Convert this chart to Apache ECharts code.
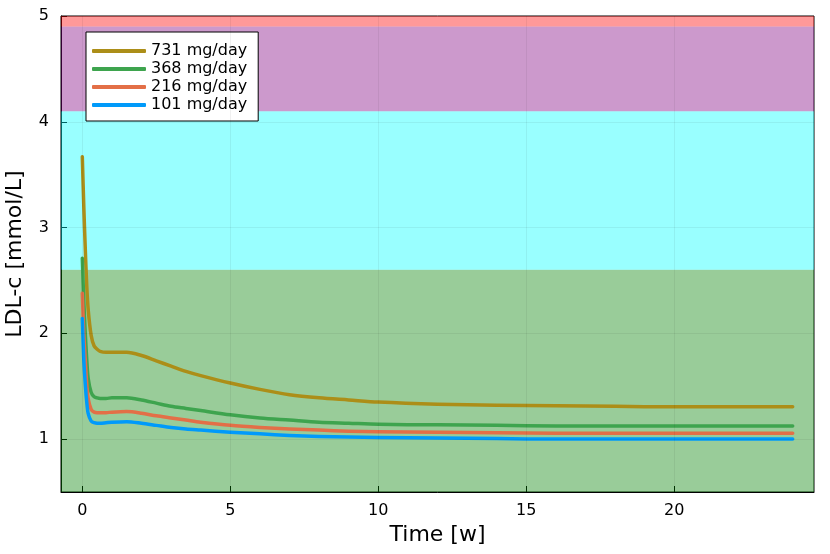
<!DOCTYPE html>
<html>
<head>
<meta charset="utf-8">
<script src="https://cdn.jsdelivr.net/npm/echarts@6/dist/echarts.min.js"></script>
<style>
    html, body { margin: 0; padding: 0; background: #fff; }
    #chart { width: 830px; height: 554px; }
</style>
</head>
<body>
<div id="chart"></div>
<script>
// MARK: - Data

const timeWeeks = [0, 0.05, 0.1, 0.15, 0.2, 0.3, 0.4, 0.5, 0.6, 0.8, 1, 1.5, 2, 2.5, 3, 3.5, 4, 5, 6, 7, 8, 9, 10, 12, 14, 16, 18, 20, 22, 24];

const ldl731 = [3.67, 3.2, 2.8, 2.45, 2.22, 1.98, 1.88, 1.85, 1.83, 1.82, 1.82, 1.82, 1.79, 1.74, 1.69, 1.64, 1.60, 1.53, 1.47, 1.42, 1.39, 1.37, 1.35, 1.33, 1.32, 1.315, 1.31, 1.305, 1.305, 1.305];
const ldl368 = [2.71, 2.3, 2.0, 1.75, 1.57, 1.44, 1.40, 1.39, 1.385, 1.385, 1.39, 1.39, 1.37, 1.34, 1.31, 1.29, 1.27, 1.23, 1.20, 1.18, 1.16, 1.15, 1.14, 1.135, 1.13, 1.125, 1.125, 1.125, 1.125, 1.125];
const ldl216 = [2.38, 2.0, 1.75, 1.52, 1.38, 1.28, 1.255, 1.25, 1.25, 1.25, 1.255, 1.26, 1.245, 1.22, 1.20, 1.18, 1.16, 1.13, 1.11, 1.095, 1.085, 1.075, 1.07, 1.065, 1.06, 1.055, 1.055, 1.055, 1.055, 1.055];
const ldl101 = [2.14, 1.75, 1.52, 1.35, 1.24, 1.17, 1.155, 1.15, 1.15, 1.155, 1.16, 1.165, 1.15, 1.13, 1.11, 1.095, 1.085, 1.065, 1.05, 1.035, 1.025, 1.02, 1.015, 1.01, 1.005, 1.0, 1.0, 1.0, 1.0, 1.0];

const doseNames = ['731 mg/day', '368 mg/day', '216 mg/day', '101 mg/day'];
const doseValues = [ldl731, ldl368, ldl216, ldl101];

// LDL-c risk bands (mmol/L)
const bandLower = [0.5, 2.6, 4.1, 4.9];
const bandUpper = [2.6, 4.1, 4.9, 5.0];

const xTicks = [0, 5, 10, 15, 20];
const yTicks = [1, 2, 3, 4, 5];

// MARK: - Chart

const doseColors = ['#ac8e18', '#3ea44e', '#e36f47', '#009afa'];
const bandColors = ['rgba(0,128,0,0.4)', 'rgba(0,255,255,0.4)', 'rgba(128,0,128,0.4)', 'rgba(255,0,0,0.4)'];
const gridColor = 'rgba(0,0,0,0.06)';
const font = 'DejaVu Sans';

let chart = echarts.init(document.getElementById('chart'), null, {renderer: 'canvas'});

let series = [{
    name: 'bands',
    type: 'line',
    data: [],
    silent: true,
    markArea: {
        silent: true,
        data: bandLower.map((lo, i) => [
            {yAxis: lo, itemStyle: {color: bandColors[i]}},
            {yAxis: bandUpper[i]}
        ])
    },
    markLine: {
        silent: true,
        symbol: 'none',
        label: {show: false},
        lineStyle: {color: gridColor, width: 1, type: 'solid'},
        data: xTicks.map(v => ({xAxis: v})).concat(yTicks.map(v => ({yAxis: v})))
    }
}];

doseNames.forEach((name, i) => {
    series.push({
        name: name,
        type: 'line',
        showSymbol: false,
        symbol: 'none',
        smooth: 0.3,
        color: doseColors[i],
        lineStyle: {width: 3.5, cap: 'round', join: 'round'},
        data: timeWeeks.map((t, k) => [t, doseValues[i][k]]),
        z: 3
    });
});

let option = {
    animation: false,
    backgroundColor: '#fff',
    grid: {
        left: 61, right: 16, top: 16, bottom: 62,
        outerBoundsMode: 'none',
        containLabel: false,
        show: true,
        borderColor: '#000',
        borderWidth: 1,
        backgroundColor: 'transparent'
    },
    legend: {
        data: doseNames,
        orient: 'vertical',
        left: 86,
        top: 32,
        padding: [11, 11, 8, 6],
        itemGap: 2,
        itemWidth: 54,
        itemHeight: 4,
        icon: 'roundRect',
        backgroundColor: '#fff',
        borderColor: '#000',
        borderWidth: 1,
        textStyle: {fontFamily: font, fontSize: 16, color: '#000', lineHeight: 14}
    },
    xAxis: {
        type: 'value',
        min: -0.72,
        max: 24.72,
        name: 'Time [w]',
        nameLocation: 'middle',
        nameGap: 32,
        nameTextStyle: {fontFamily: font, fontSize: 22, color: '#000'},
        axisLine: {show: true, onZero: false, lineStyle: {color: '#000', width: 1}},
        axisTick: {show: true, inside: true, length: 6, customValues: xTicks, lineStyle: {color: '#000'}},
        axisLabel: {customValues: xTicks, margin: 11, fontFamily: font, fontSize: 16, color: '#000'},
        splitLine: {show: false}
    },
    yAxis: {
        type: 'value',
        min: 0.5,
        max: 5,
        name: 'LDL-c [mmol/L]',
        nameLocation: 'middle',
        nameGap: 35,
        nameTextStyle: {fontFamily: font, fontSize: 22, color: '#000'},
        axisLine: {show: true, onZero: false, lineStyle: {color: '#000', width: 1}},
        axisTick: {show: true, inside: true, length: 6, customValues: yTicks, lineStyle: {color: '#000'}},
        axisLabel: {customValues: yTicks, margin: 12, fontFamily: font, fontSize: 16, color: '#000'},
        splitLine: {show: false}
    },
    series: series
};

chart.setOption(option);
</script>
</body>
</html>
